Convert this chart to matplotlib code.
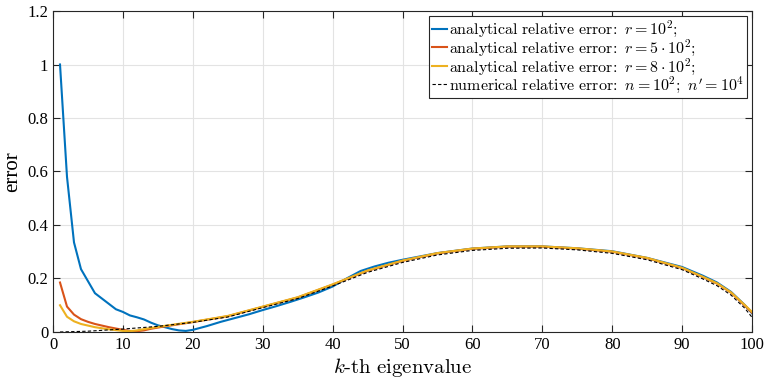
import numpy as np
import matplotlib
matplotlib.use("Agg")
from matplotlib import pyplot as plt
from matplotlib.ticker import FuncFormatter

plt.rcParams['font.family'] = ['Liberation Serif', 'DejaVu Serif']
plt.rcParams['mathtext.fontset'] = 'cm'

# analytical relative error, r = 10^2
k_r1 = [1, 2, 3, 4, 5, 6, 7, 8, 9, 10, 11, 12, 13, 14, 15, 16, 17, 18, 19, 20,
        22, 24, 26, 28, 30, 32, 34, 36, 38, 40, 42, 44, 46, 48, 50,
        55, 60, 65, 70, 75, 80, 85, 90, 93, 95, 97, 99, 100]
err_r1 = [1.0, 0.58, 0.335, 0.235, 0.19, 0.145, 0.125, 0.105, 0.085, 0.075,
          0.062, 0.055, 0.047, 0.035, 0.025, 0.018, 0.011, 0.006, 0.004, 0.008,
          0.022, 0.038, 0.052, 0.066, 0.082, 0.097, 0.113, 0.13, 0.148, 0.17,
          0.2, 0.228, 0.245, 0.259, 0.27,
          0.295, 0.312, 0.32, 0.32, 0.313, 0.302, 0.277, 0.243, 0.21, 0.185,
          0.15, 0.1, 0.07]

# analytical relative error, r = 5*10^2
k_r5 = [1, 2, 3, 4, 5, 6, 7, 8, 9, 10, 11, 12, 13, 14, 16, 20, 25, 30, 35,
        40, 45, 50, 55, 60, 65, 70, 75, 80, 85, 90, 93, 95, 97, 99, 100]
err_r5 = [0.185, 0.095, 0.065, 0.048, 0.038, 0.03, 0.024, 0.018, 0.013, 0.008,
          0.004, 0.003, 0.006, 0.012, 0.021, 0.037, 0.059, 0.094, 0.129,
          0.177, 0.229, 0.266, 0.294, 0.311, 0.319, 0.319, 0.312, 0.3, 0.276,
          0.239, 0.205, 0.181, 0.147, 0.098, 0.072]

# analytical relative error, r = 8*10^2
k_r8 = [1, 2, 3, 4, 6, 8, 10, 11, 12, 14, 16, 20, 25, 30, 35, 40, 45, 50, 55,
        60, 65, 70, 75, 80, 85, 90, 93, 95, 97, 99, 100]
err_r8 = [0.1, 0.057, 0.04, 0.03, 0.018, 0.01, 0.004, 0.003, 0.006, 0.015,
          0.023, 0.038, 0.06, 0.095, 0.13, 0.178, 0.23, 0.267, 0.295,
          0.312, 0.32, 0.32, 0.313, 0.301, 0.277, 0.24, 0.206, 0.182, 0.148,
          0.1, 0.075]

# numerical relative error, n = 10^2, n' = 10^4
k_num = [1, 5, 10, 15, 20, 25, 30, 35, 40, 45, 50, 55, 60, 65, 70, 75, 80,
         85, 90, 93, 95, 97, 99, 100]
err_num = [0.0, 0.003, 0.011, 0.021, 0.036, 0.056, 0.091, 0.125, 0.172,
           0.223, 0.26, 0.288, 0.305, 0.313, 0.314, 0.307, 0.294, 0.27,
           0.233, 0.198, 0.173, 0.138, 0.088, 0.055]

labels = [r'$\mathrm{analytical\ relative\ error\!:}\ r=10^2;$',
          r'$\mathrm{analytical\ relative\ error\!:}\ r=5\cdot10^2;$',
          r'$\mathrm{analytical\ relative\ error\!:}\ r=8\cdot10^2;$',
          r"$\mathrm{numerical\ relative\ error\!:}\ n=10^2;\ n'=10^4$"]

fig = plt.figure(figsize=(7.64, 3.82), dpi=100)
ax = fig.add_axes([0.0694, 0.1309, 0.9149, 0.8403])

ax.plot(k_r1, err_r1, color="#0072BD", lw=1.5, label=labels[0])
ax.plot(k_r5, err_r5, color="#D95319", lw=1.5, label=labels[1])
ax.plot(k_r8, err_r8, color="#EDB120", lw=1.5, label=labels[2])
ax.plot(k_num, err_num, color="black", lw=0.8, ls=(0, (3, 2)), label=labels[3])

ax.set_xlim(0, 100)
ax.set_ylim(0, 1.2)
ax.set_xticks(np.arange(0, 101, 10))
ax.set_yticks(np.arange(0, 1.21, 0.2))
ax.yaxis.set_major_formatter(FuncFormatter(lambda v, p: "%g" % round(v, 2)))
ax.grid(True, color="#e3e3e3", lw=0.8)
ax.set_axisbelow(True)
ax.tick_params(direction="in", top=True, right=True, labelsize=12,
               length=5, width=0.8, color="#262626", labelcolor="black")
for s in ax.spines.values():
    s.set_color("#262626")
    s.set_linewidth(0.8)

ax.set_xlabel(r'$k\mathrm{\text{-}th\ eigenvalue}$', fontsize=15, labelpad=2)
ax.set_ylabel("error", fontsize=15, labelpad=4)

leg = ax.legend(loc="upper right", fontsize=11.5, frameon=True, fancybox=False,
                edgecolor="#262626", framealpha=1, handlelength=0.95,
                handletextpad=0.1, borderpad=0.2, labelspacing=-0.12,
                borderaxespad=0.3)
leg.get_frame().set_linewidth(0.8)

fig.savefig("out.png", dpi=100)
